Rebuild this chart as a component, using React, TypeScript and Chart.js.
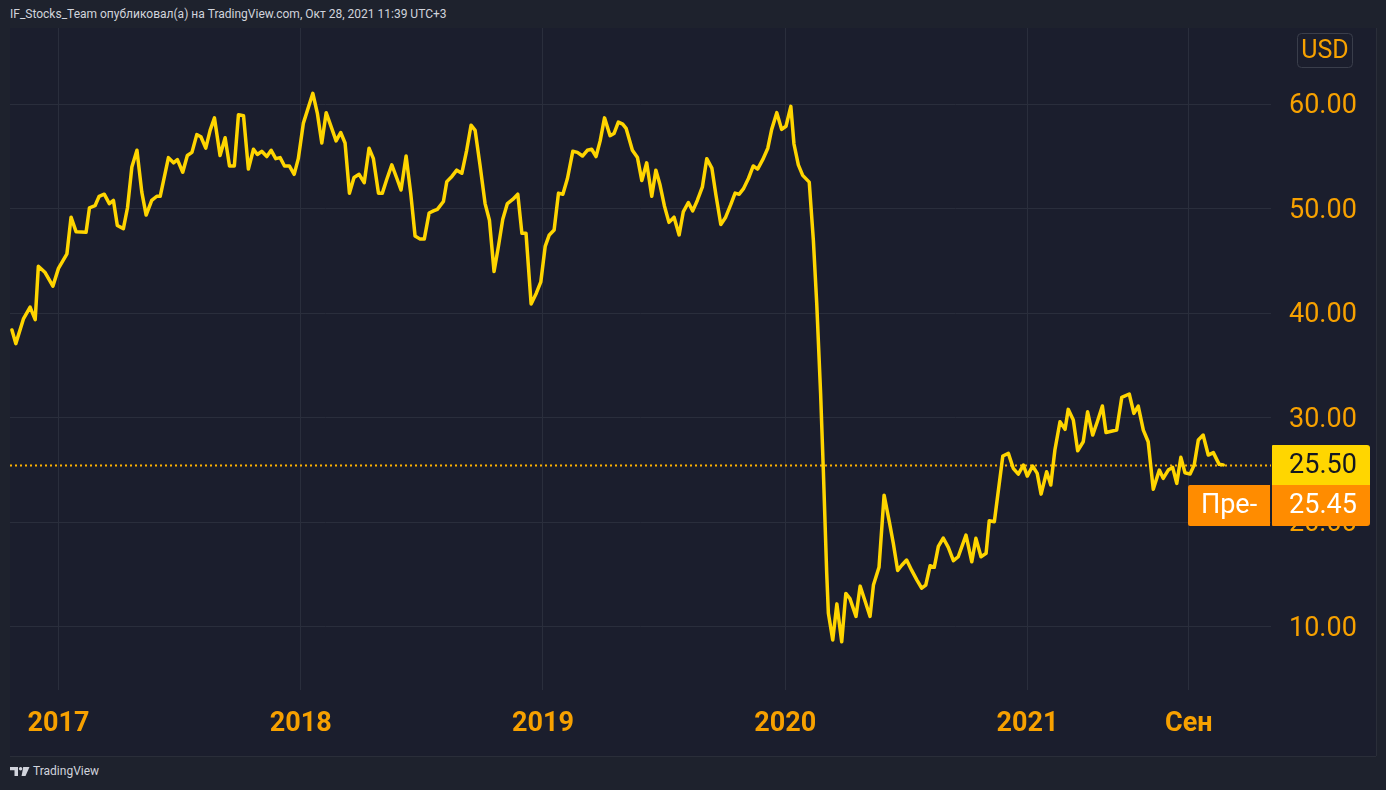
import React, { useEffect, useRef } from "react";
import { Chart, registerables } from "chart.js";

Chart.register(...registerables);

// ---- data (decimal year, price in USD) ----
const times: number[] = [
  2016.808, 2016.824, 2016.856, 2016.883, 2016.904, 2016.917, 2016.945, 2016.977, 2017.0, 2017.035,
  2017.052, 2017.073, 2017.114, 2017.128, 2017.151, 2017.168, 2017.189, 2017.21, 2017.227, 2017.243,
  2017.268, 2017.285, 2017.303, 2017.324, 2017.344, 2017.362, 2017.385, 2017.406, 2017.42, 2017.454,
  2017.475, 2017.491, 2017.513, 2017.532, 2017.551, 2017.571, 2017.588, 2017.608, 2017.626, 2017.644,
  2017.667, 2017.688, 2017.706, 2017.726, 2017.743, 2017.764, 2017.784, 2017.805, 2017.821, 2017.839,
  2017.86, 2017.878, 2017.897, 2017.915, 2017.933, 2017.953, 2017.973, 2017.99, 2018.011, 2018.05,
  2018.069, 2018.087, 2018.105, 2018.128, 2018.146, 2018.165, 2018.183, 2018.201, 2018.22, 2018.241,
  2018.262, 2018.282, 2018.3, 2018.321, 2018.337, 2018.355, 2018.376, 2018.397, 2018.414, 2018.435,
  2018.454, 2018.472, 2018.493, 2018.51, 2018.53, 2018.548, 2018.564, 2018.589, 2018.603, 2018.624,
  2018.644, 2018.665, 2018.685, 2018.703, 2018.72, 2018.74, 2018.761, 2018.779, 2018.798, 2018.816,
  2018.834, 2018.853, 2018.875, 2018.896, 2018.913, 2018.93, 2018.951, 2018.972, 2018.991, 2019.009,
  2019.026, 2019.046, 2019.064, 2019.082, 2019.101, 2019.123, 2019.142, 2019.163, 2019.183, 2019.201,
  2019.219, 2019.236, 2019.254, 2019.277, 2019.293, 2019.311, 2019.329, 2019.343, 2019.369, 2019.39,
  2019.408, 2019.428, 2019.449, 2019.466, 2019.483, 2019.501, 2019.52, 2019.541, 2019.562, 2019.579,
  2019.6, 2019.618, 2019.637, 2019.658, 2019.676, 2019.697, 2019.714, 2019.734, 2019.754, 2019.775,
  2019.793, 2019.81, 2019.827, 2019.848, 2019.868, 2019.886, 2019.907, 2019.928, 2019.944, 2019.965,
  2019.985, 2020.003, 2020.023, 2020.036, 2020.054, 2020.072, 2020.099, 2020.116, 2020.13, 2020.146,
  2020.157, 2020.171, 2020.178, 2020.196, 2020.213, 2020.233, 2020.25, 2020.267, 2020.292, 2020.309,
  2020.329, 2020.35, 2020.364, 2020.387, 2020.408, 2020.43, 2020.446, 2020.464, 2020.481, 2020.501,
  2020.522, 2020.543, 2020.563, 2020.58, 2020.598, 2020.615, 2020.632, 2020.652, 2020.673, 2020.694,
  2020.714, 2020.746, 2020.77, 2020.787, 2020.808, 2020.829, 2020.842, 2020.863, 2020.898, 2020.921,
  2020.941, 2020.962, 2020.983, 2020.999, 2021.021, 2021.04, 2021.056, 2021.079, 2021.096, 2021.113,
  2021.134, 2021.155, 2021.168, 2021.189, 2021.207, 2021.23, 2021.248, 2021.269, 2021.288, 2021.309,
  2021.324, 2021.368, 2021.389, 2021.42, 2021.439, 2021.457, 2021.478, 2021.498, 2021.519, 2021.544,
  2021.56, 2021.581, 2021.599, 2021.616, 2021.633, 2021.65, 2021.671, 2021.688, 2021.705, 2021.725,
  2021.746, 2021.767, 2021.791, 2021.808,
];

const prices: number[] = [
  38.4, 37.1, 39.5, 40.6, 39.4, 44.5, 43.9, 42.6, 44.3, 45.7,
  49.2, 47.8, 47.75, 50.1, 50.3, 51.2, 51.4, 50.5, 50.8, 48.4,
  48.1, 50.1, 54.0, 55.6, 51.6, 49.4, 50.8, 51.2, 51.2, 54.9,
  54.4, 54.7, 53.5, 55.1, 55.4, 57.1, 56.9, 55.8, 57.5, 58.7,
  55.1, 56.8, 54.1, 54.1, 59.0, 58.9, 53.8, 55.7, 55.2, 55.5,
  55.0, 55.6, 54.8, 54.9, 54.1, 54.1, 53.3, 54.8, 58.2, 61.05,
  59.1, 56.3, 59.2, 57.7, 56.5, 57.3, 56.3, 51.5, 53.0, 53.3,
  52.5, 55.8, 54.8, 51.5, 51.5, 52.8, 54.2, 52.9, 51.8, 55.05,
  51.5, 47.4, 47.1, 47.1, 49.6, 49.8, 49.95, 50.7, 52.6, 53.1,
  53.7, 53.4, 55.6, 58.0, 57.5, 54.2, 50.5, 48.9, 44.0, 46.4,
  49.0, 50.5, 50.9, 51.4, 47.65, 47.65, 40.9, 41.9, 43.0, 46.4,
  47.5, 47.97, 51.5, 51.4, 52.9, 55.5, 55.4, 55.05, 55.6, 55.7,
  55.0, 56.5, 58.7, 57.0, 57.2, 58.3, 58.1, 57.7, 55.6, 54.9,
  52.7, 54.4, 51.2, 53.7, 52.3, 50.3, 48.7, 49.2, 47.5, 49.7,
  50.6, 49.8, 50.8, 52.1, 54.8, 53.9, 51.3, 48.5, 49.2, 50.4,
  51.5, 51.4, 51.9, 52.9, 54.1, 53.8, 54.7, 55.8, 57.6, 59.2,
  57.6, 57.9, 59.8, 56.2, 54.2, 53.2, 52.55, 47.0, 40.9, 32.3,
  25.1, 15.2, 11.3, 8.74, 12.2, 8.57, 13.2, 12.7, 11.0, 13.9,
  12.5, 11.0, 14.0, 15.7, 22.6, 20.0, 18.0, 15.4, 15.9, 16.4,
  15.4, 14.5, 13.7, 14.0, 15.85, 15.7, 17.7, 18.5, 17.6, 16.33,
  16.71, 18.78, 16.23, 18.47, 16.71, 17.03, 20.15, 20.06, 26.35, 26.6,
  25.17, 24.62, 25.48, 24.43, 25.39, 24.69, 22.7, 24.84, 23.57, 26.92,
  29.63, 28.9, 30.81, 29.79, 26.85, 27.71, 30.58, 28.35, 29.63, 31.13,
  28.6, 28.83, 31.96, 32.28, 30.43, 31.13, 28.83, 27.71, 23.16, 25.0,
  24.21, 25.0, 25.26, 23.73, 26.22, 24.75, 24.62, 25.48, 27.88, 28.35,
  26.44, 26.67, 25.55, 25.5,
];

const xTickValues: number[] = [2017, 2018, 2019, 2020, 2021, 2021.666];
const xTickLabels: string[] = ["2017", "2018", "2019", "2020", "2021", "Сен"];
const yTickValues: number[] = [10, 20, 30, 40, 50, 60];

const lastPrice = 25.5;
const preMarketPrice = 25.45;
const preMarketLabel = "Пре-";
const currencyLabel = "USD";
const headerText =
  "IF_Stocks_Team опубликовал(а) на TradingView.com, Окт 28, 2021 11:39 UTC+3";
const footerText = "TradingView";

// ---- styles ----
const OUTER_BG = "#1e222d";
const PANE_BG = "#1b1e2d";
const GRID = "#2a2e3c";
const LINE = "#ffd500";
const AXIS_TEXT = "#f7a100";
const PRICE_LINE = "#ffb300";
const LAST_BOX = "#ffd600";
const PRE_BOX = "#ff8c00";
const FONT = "Roboto, 'Noto Sans', sans-serif";

const X_MIN = 2016.8;
const X_MAX = 2022.005;
const Y_MIN = 3.96;
const Y_MAX = 67.3;

const CANVAS_W = 1366;
const CANVAS_H = 728;

const overlayPlugin = {
  id: "tvOverlay",
  beforeDatasetsDraw(chart: any) {
    const { ctx, chartArea, scales } = chart;
    const py = Math.round(scales.y.getPixelForValue(lastPrice)) + 0.5;
    ctx.save();
    ctx.strokeStyle = PRICE_LINE;
    ctx.lineWidth = 2;
    ctx.setLineDash([2, 3]);
    ctx.beginPath();
    ctx.moveTo(chartArea.left, py);
    ctx.lineTo(chartArea.right, py);
    ctx.stroke();
    ctx.restore();
  },
  afterDraw(chart: any) {
    const { ctx, chartArea, scales } = chart;
    const py = scales.y.getPixelForValue(lastPrice);
    const bx = chartArea.right + 1;
    const bw = 98;
    const h1 = 40;
    const h2 = 41;
    const y1 = Math.round(py - h1 / 2);
    const y2 = y1 + h1;
    ctx.save();
    ctx.fillStyle = LAST_BOX;
    ctx.beginPath();
    ctx.roundRect(bx, y1, bw, h1, [1, 3, 0, 0]);
    ctx.fill();
    ctx.fillStyle = PRE_BOX;
    ctx.beginPath();
    ctx.roundRect(bx, y2, bw, h2, [0, 0, 3, 1]);
    ctx.fill();
    const pw = 82;
    ctx.beginPath();
    ctx.roundRect(bx - 2 - pw, y2, pw, h2, [2, 0, 0, 2]);
    ctx.fill();

    ctx.font = `27px ${FONT}`;
    ctx.textAlign = "center";
    ctx.textBaseline = "middle";
    ctx.fillStyle = "#131722";
    ctx.fillText(lastPrice.toFixed(2), bx + bw / 2 + 2, y1 + h1 / 2 + 1);
    ctx.fillStyle = "#ffffff";
    ctx.fillText(preMarketPrice.toFixed(2), bx + bw / 2 + 2, y2 + h2 / 2 + 1);
    ctx.fillText(preMarketLabel, bx - 2 - pw / 2, y2 + h2 / 2 + 1);

    const ux = bx + 25;
    const uy = 5.5;
    ctx.strokeStyle = "#3a3e4b";
    ctx.lineWidth = 1;
    ctx.beginPath();
    ctx.roundRect(ux + 0.5, uy, 55, 34, 4);
    ctx.stroke();
    ctx.fillStyle = AXIS_TEXT;
    ctx.font = `25px ${FONT}`;
    ctx.fillText(currencyLabel, ux + 28, uy + 18);
    ctx.restore();
  },
};

export default function App() {
  const ref = useRef<HTMLCanvasElement>(null);

  useEffect(() => {
    const canvas = ref.current;
    if (!canvas) return;
    const chart = new Chart(canvas, {
      type: "line",
      data: {
        datasets: [
          {
            data: times.map((t, i) => ({ x: t, y: prices[i] })),
            borderColor: LINE,
            borderWidth: 3.5,
            pointRadius: 0,
            tension: 0,
            borderJoinStyle: "round",
            borderCapStyle: "round",
            fill: false,
          },
        ],
      },
      options: {
        animation: false,
        responsive: false,
        maintainAspectRatio: false,
        events: [],
        layout: { padding: 0 },
        plugins: {
          legend: { display: false },
          tooltip: { enabled: false },
        },
        scales: {
          x: {
            type: "linear",
            position: "bottom",
            min: X_MIN,
            max: X_MAX,
            afterBuildTicks: (s: any) => {
              s.ticks = xTickValues.map((v) => ({ value: v }));
            },
            afterFit: (s: any) => {
              s.height = 66;
              s.paddingLeft = 0;
              s.paddingRight = 0;
            },
            grid: { color: GRID, lineWidth: 1, drawTicks: false },
            border: { display: false },
            ticks: {
              autoSkip: false,
              maxRotation: 0,
              minRotation: 0,
              padding: 18,
              color: AXIS_TEXT,
              font: { family: FONT, size: 27, weight: "bold" },
              callback: (v: any) => {
                const i = xTickValues.indexOf(Number(v));
                return i >= 0 ? xTickLabels[i] : "";
              },
            },
          },
          y: {
            type: "linear",
            position: "right",
            min: Y_MIN,
            max: Y_MAX,
            afterBuildTicks: (s: any) => {
              s.ticks = yTickValues.map((v) => ({ value: v }));
            },
            afterFit: (s: any) => {
              s.width = 105;
              s.paddingTop = 0;
              s.paddingBottom = 0;
            },
            grid: { color: GRID, lineWidth: 1, drawTicks: false },
            border: { display: false },
            ticks: {
              padding: 18,
              labelOffset: 2,
              color: AXIS_TEXT,
              font: { family: FONT, size: 27 },
              callback: (v: any) => Number(v).toFixed(2),
            },
          },
        },
      },
      plugins: [overlayPlugin],
    } as any);
    return () => chart.destroy();
  }, []);

  return (
    <div
      style={{
        position: "fixed",
        left: 0,
        top: 0,
        width: 1386,
        height: 790,
        background: OUTER_BG,
        overflow: "hidden",
        fontFamily: FONT,
      }}
    >
      <div
        style={{
          position: "absolute",
          left: 10,
          top: 8,
          fontSize: 12,
          lineHeight: "13px",
          color: "#d1d4dc",
          whiteSpace: "nowrap",
        }}
      >
        {headerText}
      </div>
      <div
        style={{
          position: "absolute",
          left: 10,
          top: 28,
          width: CANVAS_W,
          height: CANVAS_H,
          background: PANE_BG,
        }}
      >
        <canvas
          ref={ref}
          width={CANVAS_W}
          height={CANVAS_H}
          style={{ display: "block", width: CANVAS_W, height: CANVAS_H }}
        />
      </div>
      <div
        style={{
          position: "absolute",
          left: 10,
          top: 756,
          width: CANVAS_W,
          height: 1,
          background: "#2a2e39",
        }}
      />
      <div
        style={{
          position: "absolute",
          left: 1376,
          top: 28,
          width: 1,
          height: 728,
          background: "#2a2e39",
        }}
      />
      <svg
        style={{ position: "absolute", left: 10, top: 767 }}
        width="20"
        height="9"
        viewBox="0 0 20 9"
      >
        <path d="M0 0 H8 V9 H4.5 V3.2 H0 Z" fill="#d1d4dc" />
        <circle cx="10.6" cy="1.7" r="1.7" fill="#d1d4dc" />
        <path d="M13.2 0 H19.5 L15.5 9 H11.6 Z" fill="#d1d4dc" />
      </svg>
      <div
        style={{
          position: "absolute",
          left: 33,
          top: 764,
          fontSize: 12,
          lineHeight: "14px",
          color: "#d1d4dc",
          whiteSpace: "nowrap",
        }}
      >
        {footerText}
      </div>
    </div>
  );
}
